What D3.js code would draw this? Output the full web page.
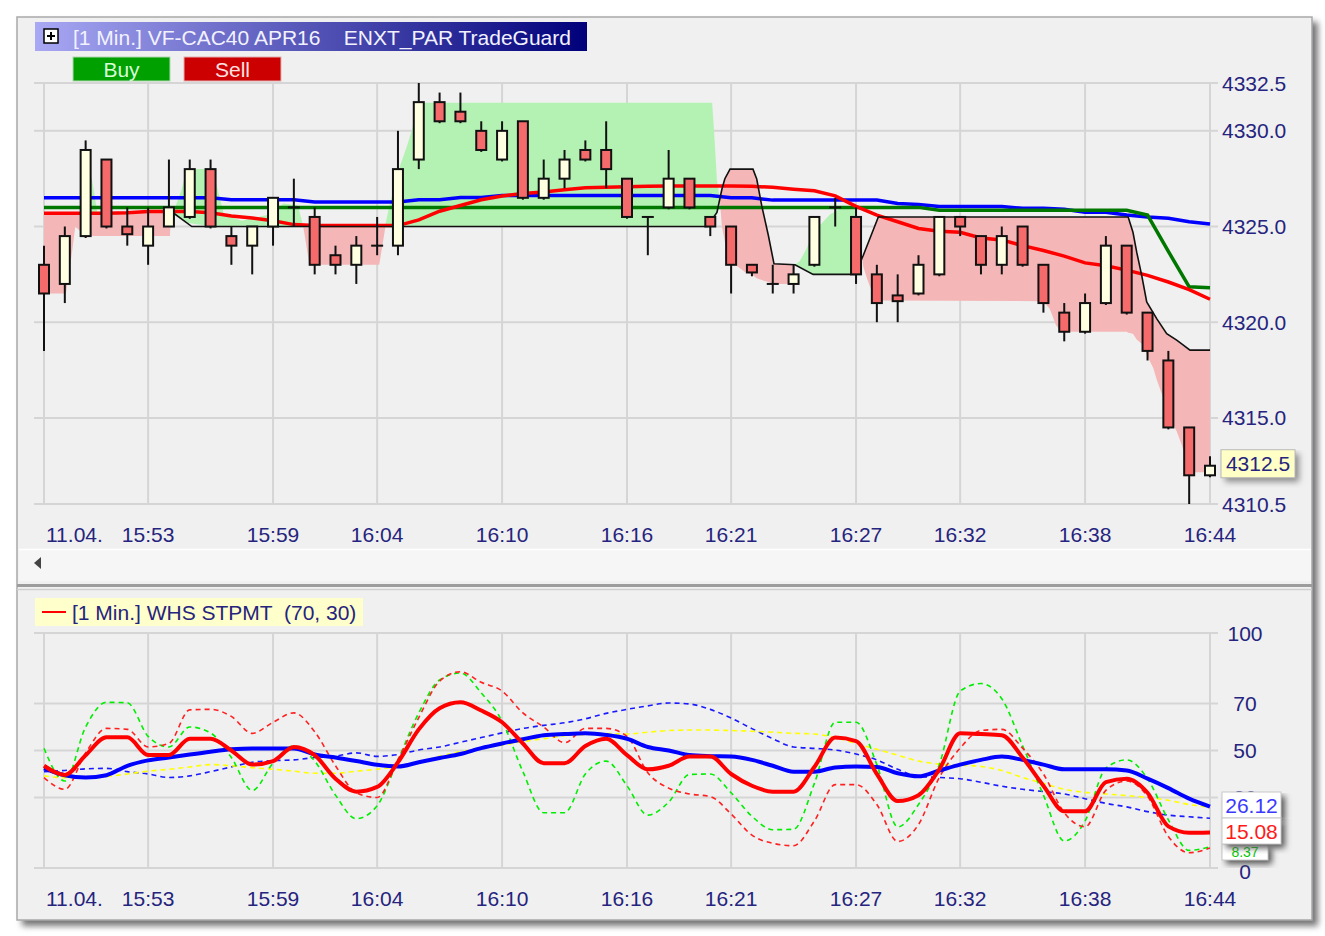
<!DOCTYPE html>
<html><head><meta charset="utf-8">
<script src="https://cdn.jsdelivr.net/npm/d3@7"></script>
<style>
html,body{margin:0;padding:0;background:#ffffff;}
svg{display:block;font-family:"Liberation Sans",Arial,sans-serif;}
</style></head><body>
<svg id="c" width="1325" height="936"></svg>
<script>
// ---------- DATA ----------
const timeLabels = ["11.04.","15:53","15:59","16:04","16:10","16:16","16:21","16:27","16:32","16:38","16:44"];
const timeLabelIdx = [0,5,11,16,22,28,33,39,44,50,56];
const priceTicks = [4332.5,4330,4325,4320,4315,4310.5];
const priceTickLabels = ["4332.5","4330.0","4325.0","4320.0","4315.0","4310.5"];
const oscTicks = [100,70,50,30,0];
const oscTickLabels = ["100","70","50","30","0"];

const open  = [4323.0,4322.0,4324.5,4328.5,4325.0,4324.0,4325.0,4325.5,4328.0,4324.5,4324.0,4325.0,4326.0,4325.5,4323.5,4323.0,4324.0,4324.0,4328.5,4331.5,4331.0,4330.0,4328.5,4330.5,4326.5,4327.5,4329.0,4329.0,4327.5,4325.5,4326.0,4327.5,4325.5,4325.0,4323.0,4322.0,4322.0,4323.0,4326.0,4325.5,4322.5,4321.4,4321.5,4322.5,4325.5,4324.5,4323.0,4325.0,4323.0,4320.5,4319.5,4321.0,4324.0,4320.5,4318.0,4314.5,4312.0];
const high  = [4324.0,4325.0,4329.5,4328.5,4326.0,4326.0,4328.5,4328.5,4328.5,4325.0,4325.0,4326.5,4327.5,4326.0,4324.0,4324.5,4325.5,4330.0,4332.5,4332.0,4332.0,4330.5,4330.5,4330.5,4328.5,4329.0,4329.5,4330.5,4327.5,4325.5,4329.0,4327.5,4325.5,4325.0,4323.0,4323.0,4323.0,4325.5,4326.5,4326.0,4323.0,4322.5,4323.5,4325.5,4325.5,4324.5,4325.0,4325.0,4323.0,4321.0,4321.5,4324.5,4324.0,4320.5,4318.5,4314.5,4313.0];
const low   = [4318.5,4321.0,4324.4,4324.9,4324.0,4323.0,4325.0,4325.4,4324.9,4323.0,4322.5,4324.0,4325.0,4322.5,4322.5,4322.0,4323.5,4323.5,4328.0,4330.4,4330.4,4328.9,4328.4,4326.4,4326.4,4327.0,4328.4,4327.0,4325.4,4323.5,4325.9,4325.9,4324.5,4321.5,4322.4,4321.5,4321.5,4322.9,4325.0,4322.0,4320.0,4320.0,4321.4,4322.4,4324.5,4322.5,4322.5,4322.9,4320.5,4319.0,4319.4,4320.9,4320.4,4318.0,4314.4,4310.5,4311.9];
const close = [4321.5,4324.5,4329.0,4325.0,4324.6,4325.0,4326.0,4328.0,4325.0,4324.0,4325.0,4326.5,4326.0,4323.0,4323.0,4324.0,4324.0,4328.0,4331.5,4330.5,4330.5,4329.0,4330.0,4326.5,4327.5,4328.5,4328.5,4328.0,4325.5,4325.5,4327.5,4326.0,4325.0,4323.0,4322.6,4322.0,4322.5,4325.5,4326.0,4322.5,4321.0,4321.1,4323.0,4325.5,4325.0,4323.0,4324.5,4323.0,4321.0,4319.5,4321.0,4324.0,4320.5,4318.5,4314.5,4312.0,4312.5];

const maBlue  = [4326.5,4326.5,4326.5,4326.5,4326.5,4326.5,4326.5,4326.5,4326.5,4326.4,4326.4,4326.4,4326.4,4326.28,4326.28,4326.28,4326.28,4326.28,4326.4,4326.4,4326.52,4326.52,4326.62,4326.62,4326.62,4326.62,4326.62,4326.62,4326.62,4326.62,4326.62,4326.62,4326.62,4326.5,4326.5,4326.38,4326.38,4326.38,4326.38,4326.38,4326.38,4326.2,4326.15,4326.05,4326.05,4326.05,4326.05,4325.95,4325.95,4325.9,4325.75,4325.75,4325.6,4325.5,4325.43,4325.25,4325.13];
const maGreen = [4326.0,4326.0,4326.0,4326.0,4326.0,4326.0,4326.0,4326.0,4326.0,4326.0,4326.0,4326.0,4326.0,4326.0,4326.0,4326.0,4326.0,4326.0,4326.0,4326.0,4326.0,4326.0,4326.0,4326.0,4326.0,4326.0,4326.0,4326.0,4326.0,4326.0,4326.0,4326.0,4326.0,4326.0,4326.0,4326.0,4326.0,4326.0,4326.0,4326.0,4326.0,4326.0,4326.0,4325.85,4325.85,4325.85,4325.85,4325.85,4325.85,4325.85,4325.85,4325.85,4325.85,4325.6,4323.7,4321.85,4321.8];
const maRed   = [4325.7,4325.7,4325.7,4325.7,4325.72,4325.78,4325.78,4325.78,4325.72,4325.55,4325.45,4325.3,4325.1,4325.05,4325.05,4325.05,4325.05,4325.05,4325.35,4325.8,4326.1,4326.4,4326.6,4326.72,4326.8,4326.92,4327.03,4327.05,4327.08,4327.1,4327.12,4327.12,4327.12,4327.12,4327.1,4327.05,4326.95,4326.87,4326.6,4326.05,4325.6,4325.25,4324.9,4324.75,4324.7,4324.4,4324.3,4324.0,4323.75,4323.45,4323.1,4322.95,4322.72,4322.45,4322.1,4321.7,4321.2];

// TradeGuard stop line: [minute index, price]
const stopLine = [[6.2,4325.72],[7.1,4325.0],[31.85,4325.0],[32.32,4325.74],[32.56,4326.96],[32.7,4327.5],[32.95,4328.0],[34.05,4328.0],[34.23,4327.48],[34.47,4326.09],[34.79,4324.53],[35.06,4323.05],[36.07,4323.0],[36.94,4322.5],[38.95,4322.5],[39.35,4323.5],[40.07,4325.5],[52.07,4325.5],[52.3,4324.7],[52.48,4323.66],[52.72,4322.45],[52.96,4321.06],[53.44,4320.19],[53.92,4319.4],[54.4,4319.06],[55.04,4318.54],[56,4318.54]];

// TradeGuard zones: [minute index, upper price, lower price]
const longZone1 = [[2.2,4327.7,4325.7],[2.3,4327.5,4325.7],[2.55,4325.8,4325.7]];
const longZone2 = [[6.2,4325.72,4325.72],[6.6,4326.9,4325.4],[6.85,4328.0,4325.2],[8.1,4328.0,4325.0],[8.35,4326.9,4325.0],[8.65,4325.6,4325.0],[9.5,4325.3,4325.0],[10.7,4325.6,4325.0],[11.5,4326.2,4325.0],[12.2,4326.1,4325.0],[12.45,4325.0,4325.0]];
const longZone3 = [[16.38,4325.0,4325.0],[16.52,4325.74,4325.0],[16.71,4326.6,4325.0],[17.1,4328.17,4325.0],[17.43,4329.2,4325.0],[17.68,4330.08,4325.0],[17.92,4331.38,4325.0],[18.3,4331.47,4325.0],[31.85,4331.47,4325.0],[32.09,4331.47,4325.1],[32.13,4330.84,4325.15],[32.23,4329.1,4325.4],[32.32,4327.4,4325.74],[32.45,4326.5,4326.5]];
const longZone4 = [[36.07,4323.0,4323.0],[36.3,4323.2,4322.9],[36.6,4323.8,4322.75],[36.94,4324.6,4322.5],[37.3,4325.1,4322.5],[37.76,4325.64,4322.5],[38.2,4325.9,4322.5],[38.95,4325.9,4322.45],[39.15,4325.0,4322.9],[39.3,4323.3,4323.3]];
const shortZone1 = [[0,4325.7,4321.5],[1.05,4325.7,4321.5],[1.2,4325.7,4322.5],[1.35,4325.7,4323.7],[1.5,4325.7,4325.0],[2.0,4325.7,4324.5],[6.05,4325.75,4324.5],[6.1,4325.75,4325.75]];
const shortZone2 = [[12.45,4325.0,4325.0],[12.75,4325.0,4323.0],[16.1,4325.0,4323.0],[16.4,4325.0,4325.0]];
const shortZone3 = [[32.45,4326.5,4326.5],[32.56,4326.96,4325.0],[32.7,4327.5,4324.2],[32.95,4328.0,4323.3],[33.2,4328.0,4323.0],[33.7,4328.0,4322.6],[34.05,4328.0,4322.45],[34.23,4327.48,4322.3],[34.47,4326.09,4322.2],[34.79,4324.53,4322.1],[35.06,4323.05,4322.0],[36.0,4323.02,4322.0],[36.07,4323.0,4323.0]];
const shortZone4 = [[39.3,4323.3,4323.3],[39.35,4323.5,4322.9],[39.55,4324.0,4322.2],[39.8,4324.8,4321.5],[40.07,4325.5,4321.13],[48.0,4325.5,4321.1],[48.3,4325.5,4320.7],[48.6,4325.5,4319.85],[48.85,4325.5,4319.5],[52.0,4325.5,4319.5],[52.07,4325.5,4319.45],[52.3,4324.7,4319.4],[52.48,4323.66,4319.1],[52.8,4322.0,4318.8],[52.96,4321.06,4318.3],[53.28,4320.4,4317.59],[53.44,4320.19,4317.0],[53.76,4319.6,4316.03],[53.92,4319.4,4315.5],[54.24,4319.2,4314.64],[54.4,4319.06,4314.3],[54.64,4318.8,4313.6],[55.04,4318.54,4312.16],[56,4318.54,4312.16]];

// WHS STPMT oscillator
const stpmt    = [43.5,39.6,48,55.6,55.6,48.1,48.1,55,55,50,44,45.5,51.5,48,38,32.5,34.5,45,59,68,70.5,67,62,53,44.6,44.6,51.9,55,48,42,43.5,47.4,47.4,40,35,32.5,32.5,43,55.5,54,40,28.5,31,42,57.3,57,56.5,47,35,24.1,24.1,36.5,38,32,17.7,15,15.08];
const signal   = [42.4,39.5,38.5,39.5,43.5,45.8,47,48.3,49.5,50.5,50.9,50.9,50.9,48.3,47,45.5,43.9,43.2,45,46.8,48.5,51,53,54.8,56.5,57,57.3,56.6,55,51.5,50,48.1,47.6,47.4,46,43.5,41,41,42.8,43.2,43,40.3,39,41.5,44,46,47.4,46,44,42,42,42,41.5,38,34,29.5,26.12];
const stoFast  = [38.5,33.5,49,59.4,59,51.5,53,67.3,67.5,64.5,57.3,62,66,58,43.5,32,30,46,64,79.5,83.5,79,75.3,66,60,53.3,59.4,59.4,56,40.5,34,31.5,30.4,23,14,10.5,9.5,20,35.5,35.5,27,11.3,18.5,38.5,51,58.5,59,51,40,23.5,17.5,33,37,30.5,13.4,6.5,8.5];
const stoGreen = [50.9,37,60,70.5,70.3,56,51.5,60,57.5,47,33,44.6,52,45.5,31,21,26.5,46,66,80,83,74.5,62.5,41,23.5,23.5,40,45.5,35,22.5,28,39.8,40,32,22,16.3,16.5,36,62,62,44,17.5,27,44,75.3,78.5,72,52,31,11.5,20,42.5,46,38,20.5,7.5,9];
const stoBlue  = [41,41.5,42.2,42.4,41,40,38.5,39.2,41,43,45,45.7,46,47,47.6,49,47.5,48.3,50.2,51.5,53.5,55.5,57.5,59.4,60.7,61.8,63.5,65.8,67.5,69,70.2,69.8,67.5,63.8,59.3,55,51.5,50.9,50.2,48.5,46,42,39,38.5,38,36.5,34.8,33.5,32.5,31.5,29.5,27.5,26,24,22.5,21.8,21.2];
const stoYellow= [39.2,38.4,38.3,38.9,40,41.2,42,43,44,43.5,42.7,42,41.2,40.3,40.3,41.2,42,43.2,45,47.5,49.5,51,52.3,53.8,55,56.3,56.8,57.2,57,57.8,58.5,58.7,58.7,58.5,58.2,57.8,57.3,57,55.5,53,50.5,48,45.5,44.2,43.8,43.2,41.5,38.5,36,33.5,32.2,31.5,30.8,30,28.8,27,25.9];
const lastValues = ["26.12","15.08","8.37"];

// ---------- DRAW ----------
const svg = d3.select("#c");
const defs = svg.append("defs");
const f = defs.append("filter").attr("id","sh").attr("x","-10%").attr("y","-10%").attr("width","130%").attr("height","130%");
f.append("feGaussianBlur").attr("stdDeviation",3);
const lg = defs.append("linearGradient").attr("id","tg").attr("x1","0").attr("x2","1").attr("y1","0").attr("y2","0");
lg.append("stop").attr("offset","0%").attr("stop-color","#a8a8f4");
lg.append("stop").attr("offset","100%").attr("stop-color","#00007a");

const navy = "#25247e";
const FS = 21;
// outer window with shadow
svg.append("rect").attr("x",22).attr("y",22).attr("width",1296).attr("height",904).attr("fill","#777").attr("filter","url(#sh)");
svg.append("rect").attr("x",17).attr("y",17).attr("width",1295).attr("height",903).attr("fill","#f0f0f0").attr("stroke","#a9a9a9").attr("stroke-width",1.5);

const x = d3.scaleLinear().domain([0,56]).range([44,1210]);
const yP = d3.scaleLinear().domain([4310.5,4332.5]).range([504,83]);
const yO = d3.scaleLinear().domain([0,100]).range([868,633]);

// scrollbar strip & panel separator
svg.append("rect").attr("x",19).attr("y",550).attr("width",1292).attr("height",31).attr("fill","#f6f6f6");
svg.append("line").attr("x1",19).attr("x2",1311).attr("y1",549.5).attr("y2",549.5).attr("stroke","#ffffff").attr("stroke-width",1.5);
svg.append("path").attr("d","M41,557 L34,563 L41,569 Z").attr("fill","#444");
svg.append("line").attr("x1",17).attr("x2",1312).attr("y1",585.5).attr("y2",585.5).attr("stroke","#9c9c9c").attr("stroke-width",3);
svg.append("line").attr("x1",17).attr("x2",1312).attr("y1",589.5).attr("y2",589.5).attr("stroke","#cfcfcf").attr("stroke-width",1.5);

// ---- top panel grid
const gTop = svg.append("g");
gTop.selectAll(".vg").data(timeLabelIdx).join("line")
  .attr("x1",d=>x(d)).attr("x2",d=>x(d)).attr("y1",yP(4332.5)).attr("y2",yP(4310.5))
  .attr("stroke","#d5d5d5").attr("stroke-width",2);
gTop.selectAll(".hg").data(priceTicks).join("line")
  .attr("x1",34).attr("x2",1218).attr("y1",d=>yP(d)).attr("y2",d=>yP(d))
  .attr("stroke","#d5d5d5").attr("stroke-width",2);

// zones
const zoneArea = d3.area().x(d=>x(d[0])).y0(d=>yP(d[2])).y1(d=>yP(d[1]));
[longZone1,longZone2,longZone3,longZone4].forEach(z=>gTop.append("path").attr("d",zoneArea(z)).attr("fill","#b4f2b4"));
[shortZone1,shortZone2,shortZone3,shortZone4].forEach(z=>gTop.append("path").attr("d",zoneArea(z)).attr("fill","#f4b6b6"));

// moving averages
const maLine = d3.line().x((d,i)=>x(i)).y(d=>yP(d));
gTop.append("path").attr("d",maLine(maBlue)).attr("fill","none").attr("stroke","#0000ff").attr("stroke-width",3.5);
gTop.append("path").attr("d",maLine(maGreen)).attr("fill","none").attr("stroke","#007800").attr("stroke-width",3.5);
gTop.append("path").attr("d",maLine(maRed)).attr("fill","none").attr("stroke","#ff0000").attr("stroke-width",3.5);
// stop line
gTop.append("path").attr("d",d3.line().x(d=>x(d[0])).y(d=>yP(d[1]))(stopLine)).attr("fill","none").attr("stroke","#111").attr("stroke-width",1.6);

// candles
const candles = open.map((o,i)=>({i,o,h:high[i],l:low[i],c:close[i]}));
gTop.selectAll(".wick").data(candles).join("line")
  .attr("x1",d=>x(d.i)).attr("x2",d=>x(d.i)).attr("y1",d=>yP(d.h)).attr("y2",d=>yP(d.l))
  .attr("stroke","#111").attr("stroke-width",2);
gTop.selectAll(".body").data(candles.filter(d=>d.o!==d.c)).join("rect")
  .attr("x",d=>x(d.i)-5).attr("width",10)
  .attr("y",d=>yP(Math.max(d.o,d.c))).attr("height",d=>Math.abs(yP(d.o)-yP(d.c)))
  .attr("fill",d=>d.c>d.o?"#ffffe2":"#f56b6b").attr("stroke","#111").attr("stroke-width",2);
gTop.selectAll(".doji").data(candles.filter(d=>d.o===d.c)).join("line")
  .attr("x1",d=>x(d.i)-6).attr("x2",d=>x(d.i)+6).attr("y1",d=>yP(d.o)).attr("y2",d=>yP(d.o))
  .attr("stroke","#111").attr("stroke-width",2);

// price labels
gTop.selectAll(".pl").data(priceTicks).join("text")
  .attr("x",1222).attr("y",d=>yP(d)).attr("dy","0.36em")
  .attr("font-size",FS).attr("fill",navy).text((d,i)=>priceTickLabels[i]);
// last price box
const lastClose = close[close.length-1];
const lb = svg.append("g").attr("transform",`translate(1221,${yP(lastClose)-16})`);
lb.append("rect").attr("x",4).attr("y",4).attr("width",74).attr("height",28).attr("fill","#8a8a8a").attr("filter","url(#sh)");
lb.append("rect").attr("width",74).attr("height",28).attr("fill","#ffffc6").attr("stroke","#b8b8b8");
lb.append("text").attr("x",37).attr("y",14).attr("dy","0.36em").attr("text-anchor","middle").attr("font-size",FS).attr("fill",navy).text(lastClose.toFixed(1));

// time labels
const tl = (gy) => svg.append("g").selectAll("text").data(timeLabelIdx).join("text")
  .attr("x",(d,i)=>i===0?x(d)+2:x(d)).attr("y",gy).attr("dy","0.36em")
  .attr("text-anchor",(d,i)=>i===0?"start":"middle")
  .attr("font-size",FS).attr("fill",navy).text((d,i)=>timeLabels[i]);
tl(534);
tl(898);

// title bar
svg.append("rect").attr("x",35).attr("y",22).attr("width",552).attr("height",29).attr("fill","url(#tg)");
svg.append("rect").attr("x",44).attr("y",29).attr("width",14).attr("height",14).attr("fill","#fff").attr("stroke","#000").attr("stroke-width",1.5);
svg.append("path").attr("d","M47,36 H55 M51,32 V40").attr("stroke","#000").attr("stroke-width",2);
svg.append("text").attr("x",73).attr("y",37).attr("dy","0.36em").attr("font-size",FS).attr("fill","#f2f2ff")
  .style("white-space","pre").text("[1 Min.] VF-CAC40 APR16    ENXT_PAR TradeGuard");
// buttons
svg.append("rect").attr("x",73).attr("y",57).attr("width",97).attr("height",24).attr("fill","#00a000").attr("stroke","#b0d8b0");
svg.append("text").attr("x",121.5).attr("y",69).attr("dy","0.36em").attr("text-anchor","middle").attr("font-size",FS).attr("fill","#d8ffd8").text("Buy");
svg.append("rect").attr("x",184).attr("y",57).attr("width",97).attr("height",24).attr("fill","#cc0000").attr("stroke","#e0b0b0");
svg.append("text").attr("x",232.5).attr("y",69).attr("dy","0.36em").attr("text-anchor","middle").attr("font-size",FS).attr("fill","#ffe0e0").text("Sell");

// ---- lower panel
const gB = svg.append("g");
gB.selectAll(".vg").data(timeLabelIdx).join("line")
  .attr("x1",d=>x(d)).attr("x2",d=>x(d)).attr("y1",yO(100)).attr("y2",yO(0))
  .attr("stroke","#d5d5d5").attr("stroke-width",2);
gB.selectAll(".hg").data(oscTicks).join("line")
  .attr("x1",34).attr("x2",1218).attr("y1",d=>yO(d)).attr("y2",d=>yO(d))
  .attr("stroke","#d5d5d5").attr("stroke-width",2);
gB.selectAll(".ol").data(oscTicks).join("text")
  .attr("x",1245).attr("y",d=>yO(d)).attr("dy",d=>d===0?"0.5em":"0.36em").attr("text-anchor","middle")
  .attr("font-size",FS).attr("fill",navy).text((d,i)=>oscTickLabels[i]);

const oLine = d3.line().x((d,i)=>x(i)).y(d=>yO(d)).curve(d3.curveMonotoneX);
[[stoBlue,"#1a1aff"],[stoYellow,"#ffff00"],[stoGreen,"#00ee00"],[stoFast,"#ff2020"]].forEach(([s,c])=>
  gB.append("path").attr("d",oLine(s)).attr("fill","none").attr("stroke",c).attr("stroke-width",1.6).attr("stroke-dasharray","5,4"));
gB.append("path").attr("d",oLine(signal)).attr("fill","none").attr("stroke","#0000ff").attr("stroke-width",4);
gB.append("path").attr("d",oLine(stpmt)).attr("fill","none").attr("stroke","#ff0000").attr("stroke-width",4);

// legend
svg.append("rect").attr("x",35).attr("y",598).attr("width",328).attr("height",28).attr("fill","#ffffcc");
svg.append("line").attr("x1",42).attr("x2",66).attr("y1",612).attr("y2",612).attr("stroke","#ff0000").attr("stroke-width",2);
svg.append("text").attr("x",72).attr("y",612).attr("dy","0.36em").attr("font-size",FS).attr("fill",navy)
  .style("white-space","pre").text("[1 Min.] WHS STPMT  (70, 30)");

// last value boxes (lower)
const vb = [[lastValues[2],"#00c800",1222,844,46,16,14],[lastValues[0],"#3a3aff",1222,792,59,26,FS],[lastValues[1],"#ff1a1a",1222,818,59,26,FS]];
vb.forEach(([t,c,bx,by,bw,bh,fs])=>{
  svg.append("rect").attr("x",bx+4).attr("y",by+4).attr("width",bw).attr("height",bh).attr("fill","#555").attr("filter","url(#sh)");
  svg.append("rect").attr("x",bx).attr("y",by).attr("width",bw).attr("height",bh).attr("fill","#ffffff").attr("stroke","#c8c8c8");
  svg.append("text").attr("x",bx+bw/2).attr("y",by+bh/2).attr("dy","0.36em").attr("text-anchor","middle").attr("font-size",fs).attr("fill",c).text(t);
});
</script>
</body></html>
